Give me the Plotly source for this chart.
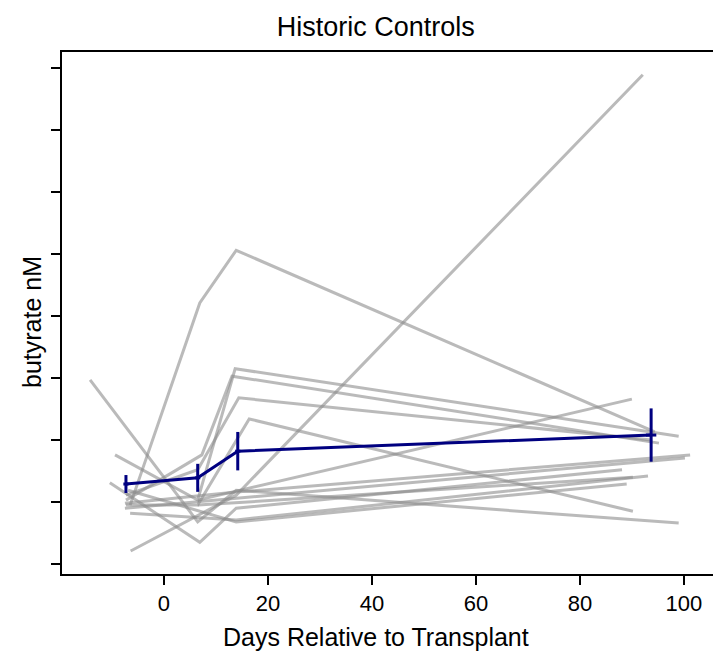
import plotly.graph_objects as go

# Individual patient trajectories (days relative to transplant, butyrate in tick units)
p01_days = [-6.4, 13.9, 92.1]
p01_vals = [0.21, 1.11, 7.89]
p02_days = [-6.5, 6.9, 13.9, 94.4]
p02_vals = [0.95, 4.21, 5.06, 2.13]
p03_days = [-14.2, 6.5, 13.9, 99.0]
p03_vals = [2.97, 0.68, 1.19, 0.66]
p04_days = [-10.4, 6.9, 13.9, 88.1]
p04_vals = [1.31, 0.35, 0.90, 1.52]
p05_days = [-9.4, 6.5, 13.7, 99.0]
p05_vals = [1.76, 1.03, 3.15, 2.06]
p06_days = [-7.3, 7.3, 13.1, 95.2]
p06_vals = [1.03, 1.76, 3.03, 1.95]
p07_days = [-7.3, 6.5, 14.4, 93.7]
p07_vals = [1.11, 1.52, 2.68, 2.00]
p08_days = [-7.3, 6.5, 16.4, 90.2]
p08_vals = [0.95, 0.95, 2.34, 0.85]
p09_days = [-7.5, 13.9, 101.2]
p09_vals = [0.98, 1.16, 1.76]
p10_days = [-7.5, 13.9, 100.2]
p10_vals = [0.90, 1.06, 1.71]
p11_days = [-6.5, 13.9, 93.1]
p11_vals = [0.82, 0.71, 1.42]
p12_days = [6.5, 90.2]
p12_vals = [0.95, 1.40]
p13_days = [-6.9, 13.9, 89.0]
p13_vals = [1.19, 0.68, 1.29]
p14_days = [6.5, 90.0]
p14_vals = [1.03, 2.66]

patients = [
    (p01_days, p01_vals), (p02_days, p02_vals), (p03_days, p03_vals),
    (p04_days, p04_vals), (p05_days, p05_vals), (p06_days, p06_vals),
    (p07_days, p07_vals), (p08_days, p08_vals), (p09_days, p09_vals),
    (p10_days, p10_vals), (p11_days, p11_vals), (p12_days, p12_vals),
    (p13_days, p13_vals), (p14_days, p14_vals),
]

# Group mean with error bars
mean_days = [-7.3, 6.5, 14.2, 93.7]
mean_vals = [1.29, 1.39, 1.82, 2.08]
mean_err = [0.145, 0.226, 0.31, 0.43]
mean_xerr = [0.5, 0.5, 0.5, 1.0]

y_ticks = [0, 1, 2, 3, 4, 5, 6, 7, 8]
x_ticks = [0, 20, 40, 60, 80, 100]

FONT = "Liberation Sans, Arial, Helvetica, sans-serif"

fig = go.Figure()
for d, v in patients:
    fig.add_trace(go.Scatter(
        x=d, y=v, mode="lines",
        line=dict(color="rgba(140,140,140,0.6)", width=3),
        showlegend=False, hoverinfo="skip"))

fig.add_trace(go.Scatter(
    x=mean_days, y=mean_vals, mode="lines",
    line=dict(color="#000080", width=3),
    error_y=dict(type="data", array=mean_err, color="#000080", thickness=3, width=0),
    error_x=dict(type="data", array=mean_xerr, color="#000080", thickness=3, width=0),
    showlegend=False))

fig.update_layout(
    width=713, height=657,
    margin=dict(l=62, r=0, t=52, b=83),
    plot_bgcolor="white", paper_bgcolor="white",
    font=dict(family=FONT, color="black", size=22),
    title=dict(text="Historic Controls", x=0.527, xanchor="center",
               y=1 - 27 / 657, yanchor="middle", yref="container",
               font=dict(size=27, family=FONT, color="black")),
    xaxis=dict(range=[-19.6, 105.6], tickvals=x_ticks, showgrid=False, zeroline=False,
               showline=True, linecolor="black", linewidth=2, mirror=True,
               ticks="outside", ticklen=9, tickwidth=2, tickcolor="black",
               tickfont=dict(size=22, family=FONT)),
    yaxis=dict(range=[-0.161, 8.258], tickvals=y_ticks, ticktext=[""] * len(y_ticks),
               showgrid=False, zeroline=False,
               showline=True, linecolor="black", linewidth=2, mirror=False,
               ticks="outside", ticklen=9, tickwidth=2, tickcolor="black"),
    annotations=[
        dict(text="Days Relative to Transplant", xref="paper", yref="paper",
             x=(376 - 62) / 651, y=-(637 - 574) / 522, xanchor="center", yanchor="middle",
             showarrow=False, font=dict(size=25, family=FONT)),
        dict(text="butyrate nM", xref="paper", yref="paper",
             x=(32 - 62) / 651, y=(574 - 322) / 522, xanchor="center", yanchor="middle",
             textangle=-90, showarrow=False, font=dict(size=25, family=FONT)),
    ],
)

fig.write_html("out.html")
